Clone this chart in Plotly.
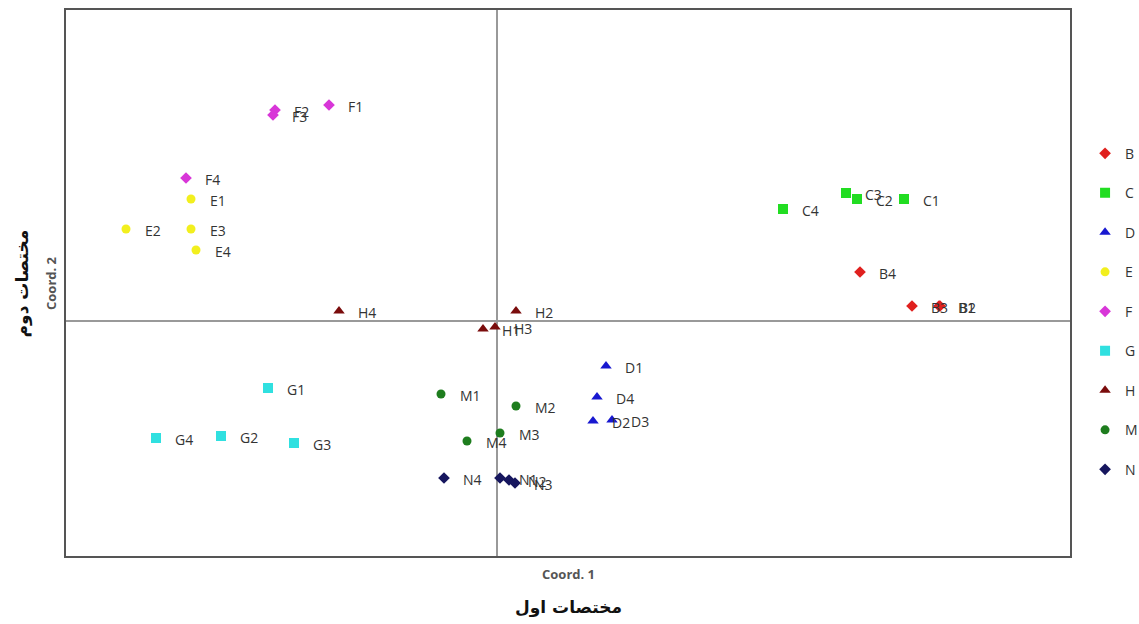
import plotly.graph_objects as go

groups = ["B", "C", "D", "E", "F", "G", "H", "M", "N"]
labels = {g: [f"{g}{i}" for i in range(1, 5)] for g in groups}

x_B = [4.42, 4.43, 4.15, 3.63]
y_B = [0.15, 0.15, 0.15, 0.49]
x_C = [4.07, 3.60, 3.49, 2.86]
y_C = [1.22, 1.22, 1.28, 1.12]
x_D = [1.09, 0.96, 1.15, 1.00]
y_D = [-0.45, -1.00, -0.99, -0.76]
x_E = [-3.06, -3.71, -3.06, -3.01]
y_E = [1.22, 0.92, 0.92, 0.71]
x_F = [-1.68, -2.22, -2.24, -3.11]
y_F = [2.16, 2.11, 2.06, 1.43]
x_G = [-2.29, -2.76, -2.03, -3.41]
y_G = [-0.67, -1.15, -1.22, -1.17]
x_H = [-0.14, 0.19, -0.02, -1.58]
y_H = [-0.08, 0.10, -0.06, 0.10]
x_M = [-0.56, 0.19, 0.03, -0.30]
y_M = [-0.73, -0.85, -1.12, -1.20]
x_N = [0.03, 0.12, 0.18, -0.53]
y_N = [-1.57, -1.59, -1.62, -1.57]

xs = {"B": x_B, "C": x_C, "D": x_D, "E": x_E, "F": x_F, "G": x_G, "H": x_H, "M": x_M, "N": x_N}
ys = {"B": y_B, "C": y_C, "D": y_D, "E": y_E, "F": y_F, "G": y_G, "H": y_H, "M": y_M, "N": y_N}

colors = {"B": "#e0201e", "C": "#22dd22", "D": "#1818d0", "E": "#f2ef1e",
          "F": "#d836d8", "G": "#30e0e0", "H": "#7a0c0c", "M": "#1e7d1e", "N": "#16165e"}
symbols = {"B": "diamond", "C": "square", "D": "triangle-up", "E": "circle",
           "F": "diamond", "G": "square", "H": "triangle-up", "M": "circle", "N": "diamond"}
sizes = {"B": 9, "C": 10, "D": 10, "E": 9, "F": 9, "G": 10, "H": 10, "M": 9, "N": 9}

fig = go.Figure()
for g in groups:
    fig.add_trace(go.Scatter(
        x=xs[g], y=ys[g], mode="markers", name=g, legendgroup=g,
        marker=dict(color=colors[g], symbol=symbols[g], size=sizes[g], line=dict(width=0)),
    ))

annotations = []
for g in groups:
    for xv, yv, t in zip(xs[g], ys[g], labels[g]):
        annotations.append(dict(x=xv, y=yv, xref="x", yref="y", text=t, showarrow=False,
                                xanchor="left", yanchor="middle", xshift=17, yshift=-1,
                                font=dict(family="Open Sans", size=14, color="#333333")))

annotations += [
    dict(x=0.5, y=-0.012, xref="paper", yref="paper", text="<b>Coord. 1</b>", showarrow=False,
         xanchor="center", yanchor="top", font=dict(family="Open Sans", size=13, color="#555555")),
    dict(x=0.5, y=-0.072, xref="paper", yref="paper", text="<b>مختصات اول</b>", showarrow=False,
         xanchor="center", yanchor="top", font=dict(family="DejaVu Sans", size=17, color="#111111")),
    dict(x=-0.004, y=0.5, xref="paper", yref="paper", text="<b>Coord. 2</b>", showarrow=False,
         textangle=-90, xanchor="right", yanchor="middle",
         font=dict(family="Open Sans", size=13, color="#555555")),
    dict(x=-0.031, y=0.5, xref="paper", yref="paper", text="<b>مختصات دوم</b>", showarrow=False,
         textangle=-90, xanchor="right", yanchor="middle",
         font=dict(family="DejaVu Sans", size=17, color="#111111")),
]

fig.update_layout(
    width=1139, height=624,
    margin=dict(l=66, r=69, t=10, b=68, autoexpand=False),
    paper_bgcolor="white", plot_bgcolor="white",
    showlegend=True,
    legend=dict(x=1.015, y=0.766, xanchor="left", yanchor="top",
                traceorder="grouped", tracegroupgap=18.3,
                font=dict(family="Open Sans", size=14, color="#333333"),
                itemwidth=30, bgcolor="rgba(0,0,0,0)"),
    annotations=annotations,
    xaxis=dict(range=[-4.31, 5.73], showgrid=False, showticklabels=False, ticks="",
               zeroline=True, zerolinecolor="#999999", zerolinewidth=1.5,
               showline=True, mirror=True, linecolor="#555555", linewidth=1.5),
    yaxis=dict(range=[-2.35, 3.11], showgrid=False, showticklabels=False, ticks="",
               zeroline=True, zerolinecolor="#999999", zerolinewidth=1.5,
               showline=True, mirror=True, linecolor="#555555", linewidth=1.5),
)

fig.write_html("out.html", config={"displayModeBar": False},
               post_script="document.body.style.margin='0';document.body.style.overflow='hidden';")
